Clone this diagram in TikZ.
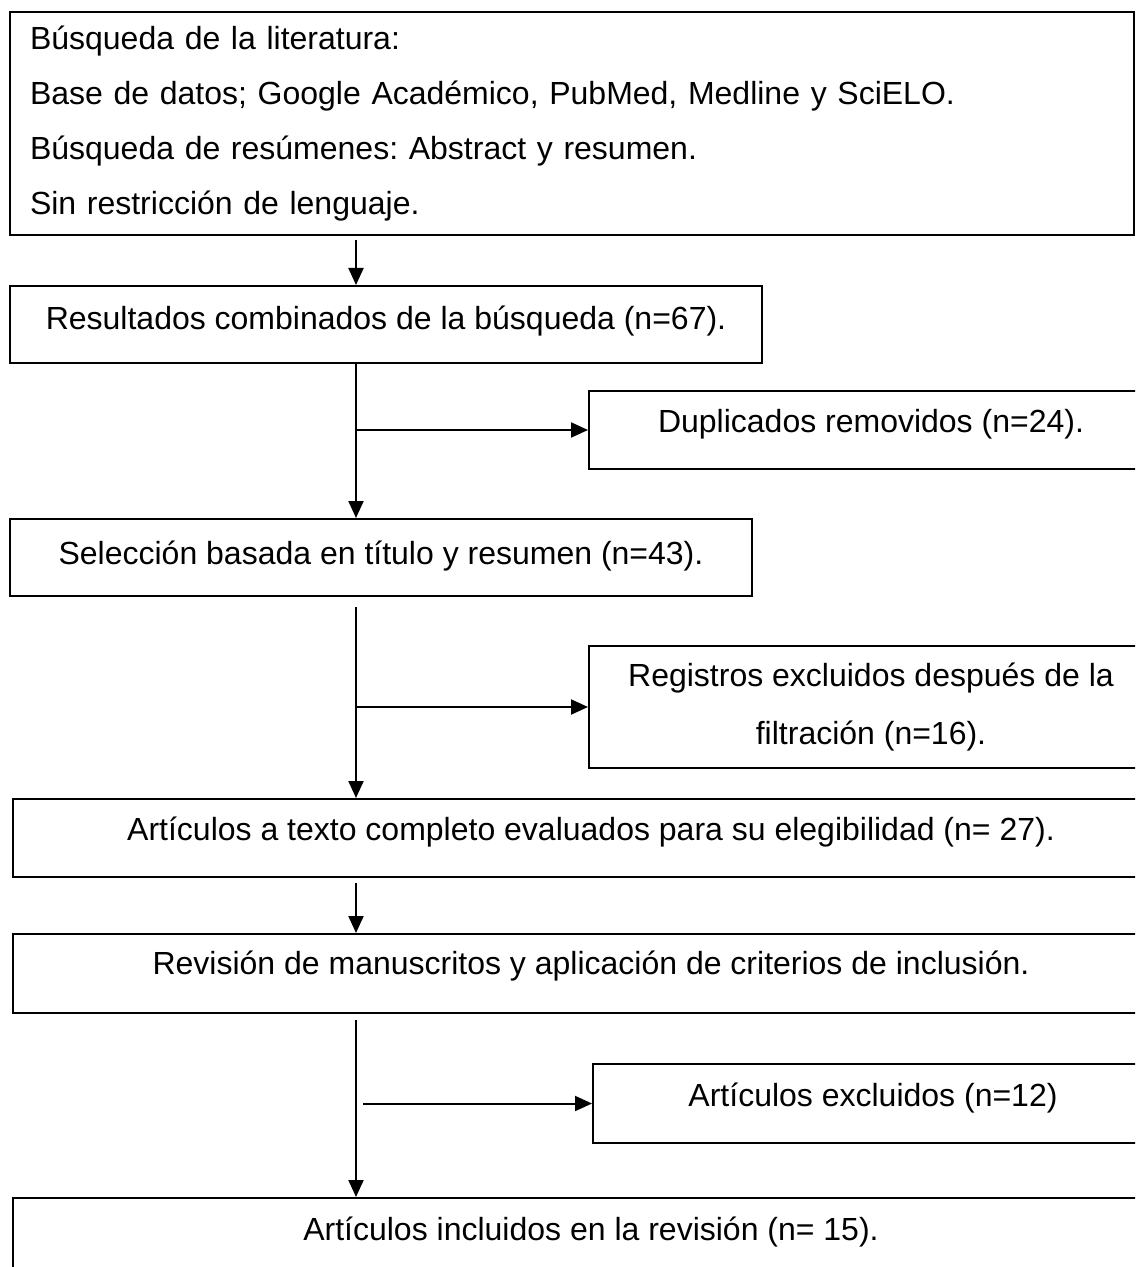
\documentclass[tikz,border=0pt]{standalone}
\usepackage{fontspec}
\setmainfont{Liberation Sans}
\usetikzlibrary{arrows.meta}
\frenchspacing

\begin{document}
\begin{tikzpicture}[x=0.5pt, y=-0.5pt, line width=1pt,
    >={Triangle[length=8.5pt, width=7.5pt]},
    font=\fontsize{16}{27.5}\selectfont,
    box/.style={draw, anchor=north west, inner xsep=0pt, inner ysep=0pt, align=center},
    pad/.style 2 args={text height=#1, text depth=#2}]
    \useasboundingbox (0,0) rectangle (1135,1267);
    \clip (0,0) rectangle (1135,1267);

    % Boxes
    \node [box, align=left, text width=542pt, inner xsep=10pt, minimum height=111.5pt] (busq) at (9,11)
        {Búsqueda de la literatura:\\
         Base de datos; Google Académico, PubMed, Medline y SciELO.\\
         Búsqueda de resúmenes: Abstract y resumen.\\
         Sin restricción de lenguaje.};
    \node [box, minimum width=376pt, pad={21.5pt}{17pt}]   (res)  at (9,285)   {Resultados combinados de la búsqueda (n=67).};
    \node [box, minimum width=282pt, pad={20.5pt}{18.5pt}] (dup)  at (588,390) {Duplicados removidos (n=24).};
    \node [box, minimum width=371pt, pad={22.5pt}{16pt}]   (sel)  at (9,518)   {Selección basada en título y resumen (n=43).};
    \node [box, minimum width=282pt, minimum height=61pt, font=\fontsize{16}{29}\selectfont] (reg) at (588,645)
        {Registros excluidos después de la\\ filtración (n=16).};
    \node [box, minimum width=578pt, pad={20.5pt}{18.5pt}] (eleg) at (12,798)  {Artículos a texto completo evaluados para su elegibilidad (n= 27).};
    \node [box, minimum width=578pt, pad={20pt}{19.5pt}]   (rev)  at (12,933)  {Revisión de manuscritos y aplicación de criterios de inclusión.};
    \node [box, minimum width=280pt, pad={21pt}{18.5pt}]   (excl) at (592,1063) {Artículos excluidos (n=12)};
    \node [box, minimum width=578pt, pad={21pt}{40pt}]     (incl) at (12,1197) {Artículos incluidos en la revisión (n= 15).};

    % Main line
    \coordinate (spine) at (356,0);

    % Paths
    \draw [->, shorten <=2pt]   (busq.south -| spine) -- (res.north -| spine);
    \draw [->]                  (res.south -| spine)  -- (sel.north -| spine);
    \draw [->]                  (dup.west -| spine)   -- (dup.west);
    \draw [->, shorten <=5pt]   (sel.south -| spine)  -- (eleg.north -| spine);
    \draw [->]                  (reg.west -| spine)   -- (reg.west);
    \draw [->, shorten <=2.5pt] (eleg.south -| spine) -- (rev.north -| spine);
    \draw [->, shorten <=3pt]   (rev.south -| spine)  -- (incl.north -| spine);
    \draw [->, shorten <=3.5pt] (excl.west -| spine)  -- (excl.west);

\end{tikzpicture}
\end{document}
